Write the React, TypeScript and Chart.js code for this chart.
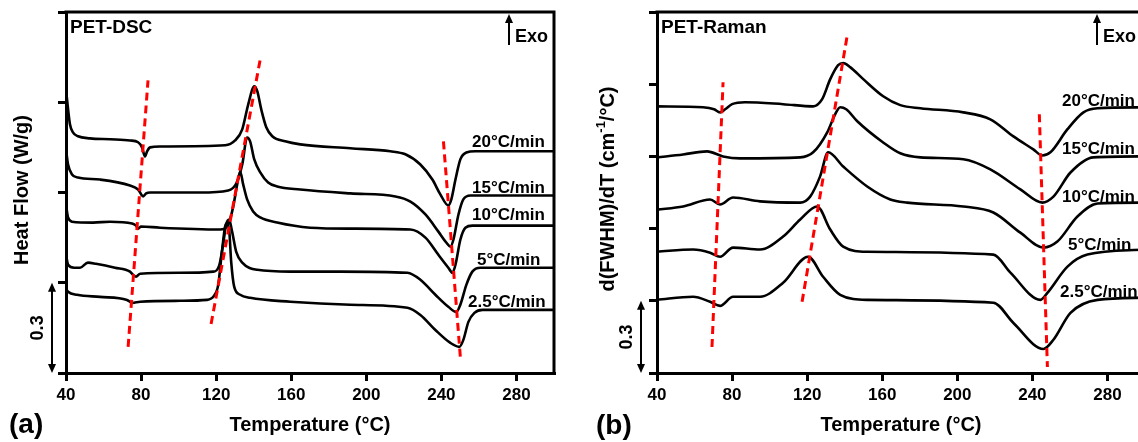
import React, { useEffect, useRef } from "react";
import { Chart, registerables } from "chart.js";

Chart.register(...registerables);

type Pt = [number, number];

const FONT = '"Liberation Sans", Arial, Helvetica, sans-serif';

// ---------- axes ----------
const tempMin = 40;
const tempMax = 300;
const temperatureTicks = [40, 80, 120, 160, 200, 240, 280];
const dscTicks = [0, 0.3, 0.6, 0.9, 1.2];
const ramanTicks = [0, 0.3, 0.6, 0.9, 1.2, 1.5];
const rateLabels = ["20°C/min", "15°C/min", "10°C/min", "5°C/min", "2.5°C/min"];
const scaleBarValue = 0.3;

// ---------- (a) PET-DSC : [temperature °C, offset heat flow W/g] ----------
const dsc20: Pt[] = [
  [40.0, 0.943], [41.1, 0.877], [42.1, 0.827], [43.7, 0.8], [46.4, 0.787], [52.8, 0.78], [63.5, 0.777],
  [74.1, 0.773], [78.4, 0.767], [80.5, 0.75], [82.1, 0.72], [83.2, 0.737], [84.8, 0.75], [90.1, 0.753],
  [124.8, 0.757], [130.1, 0.773], [133.9, 0.81], [137.1, 0.893], [140.3, 0.953], [141.9, 0.937],
  [144.0, 0.877], [146.7, 0.817], [149.9, 0.787], [156.8, 0.77], [164.8, 0.76], [191.5, 0.747],
  [212.8, 0.737], [220.8, 0.727], [228.8, 0.693], [235.2, 0.643], [239.5, 0.593], [243.7, 0.557],
  [245.3, 0.577], [247.5, 0.643], [250.1, 0.71], [253.3, 0.733], [258.1, 0.737], [300, 0.737],
];
const dsc15: Pt[] = [
  [40.0, 0.743], [41.1, 0.693], [43.2, 0.66], [46.4, 0.65], [58.1, 0.643], [74.1, 0.623], [78.4, 0.61],
  [81.1, 0.587], [82.7, 0.597], [84.8, 0.6], [111.5, 0.6], [126.4, 0.607], [130.7, 0.63], [133.9, 0.693],
  [136.5, 0.783], [138.1, 0.77], [140.3, 0.71], [143.5, 0.667], [147.7, 0.633], [152.5, 0.62],
  [164.8, 0.61], [191.5, 0.597], [215.5, 0.587], [223.5, 0.57], [231.5, 0.527], [238.4, 0.47],
  [242.7, 0.433], [244.8, 0.42], [246.4, 0.443], [249.1, 0.527], [251.7, 0.577], [255.5, 0.59], [300, 0.59],
];
const dsc10: Pt[] = [
  [40.0, 0.56], [41.1, 0.517], [43.2, 0.503], [54.4, 0.5], [63.5, 0.503], [75.2, 0.497], [77.3, 0.49],
  [78.4, 0.48], [80.0, 0.487], [90.1, 0.483], [122.1, 0.477], [126.4, 0.493], [129.1, 0.553],
  [131.2, 0.627], [132.8, 0.67], [134.4, 0.627], [136.5, 0.577], [139.7, 0.537], [143.5, 0.517],
  [152.5, 0.5], [170.1, 0.483], [191.5, 0.48], [223.5, 0.477], [231.5, 0.45], [238.4, 0.393],
  [243.7, 0.35], [245.9, 0.333], [247.5, 0.36], [250.1, 0.443], [252.8, 0.483], [256.5, 0.49], [300, 0.49],
];
const dsc5: Pt[] = [
  [40.0, 0.393], [41.1, 0.36], [44.3, 0.35], [47.5, 0.35], [51.7, 0.367], [56.0, 0.363], [66.1, 0.35],
  [74.1, 0.337], [76.3, 0.323], [77.3, 0.32], [79.5, 0.33], [100.8, 0.333], [118.4, 0.337], [121.6, 0.357],
  [123.7, 0.427], [125.3, 0.493], [126.9, 0.51], [128.5, 0.47], [130.7, 0.403], [133.9, 0.367],
  [141.9, 0.343], [159.5, 0.337], [186.1, 0.337], [221.9, 0.333], [228.8, 0.31], [236.8, 0.26],
  [243.7, 0.22], [248.0, 0.203], [250.1, 0.227], [253.3, 0.293], [256.5, 0.337], [260.8, 0.35], [300, 0.35],
];
const dsc2p5: Pt[] = [
  [40.0, 0.28], [41.1, 0.27], [45.9, 0.26], [58.1, 0.253], [72.5, 0.243], [75.2, 0.233], [79.5, 0.237],
  [100.8, 0.24], [115.2, 0.243], [118.9, 0.257], [121.1, 0.293], [123.2, 0.41], [125.3, 0.497],
  [126.9, 0.477], [128.0, 0.37], [129.6, 0.287], [132.8, 0.26], [138.1, 0.25], [159.5, 0.237],
  [191.5, 0.227], [221.9, 0.217], [228.8, 0.193], [236.8, 0.143], [244.8, 0.1], [249.6, 0.087],
  [251.7, 0.11], [254.4, 0.17], [257.6, 0.2], [261.9, 0.21], [300, 0.21],
];
const dscGuides: Pt[][] = [
  [[73.1, 0.087], [83.7, 0.973]],
  [[117.3, 0.163], [143.5, 1.043]],
  [[241.1, 0.77], [250.1, 0.053]],
];

// ---------- (b) PET-Raman : [temperature °C, offset d(FWHM)/dT] ----------
const raman20: Pt[] = [
  [40.0, 1.108], [64.5, 1.104], [70.4, 1.096], [73.6, 1.083], [76.3, 1.096], [80.0, 1.117], [86.9, 1.125],
  [107.2, 1.117], [123.2, 1.108], [128.0, 1.138], [132.3, 1.221], [136.5, 1.279], [139.2, 1.288],
  [142.9, 1.271], [149.9, 1.221], [160.5, 1.15], [169.6, 1.113], [180.3, 1.1], [203.2, 1.083],
  [217.6, 1.054], [229.9, 0.983], [240.5, 0.929], [245.3, 0.904], [249.6, 0.917], [258.7, 1.013],
  [267.2, 1.083], [274.7, 1.1], [300, 1.104],
];
const raman15: Pt[] = [
  [40.0, 0.896], [53.9, 0.908], [66.7, 0.921], [75.2, 0.9], [84.3, 0.892], [116.3, 0.896], [123.2, 0.917],
  [130.7, 1.0], [134.9, 1.075], [137.6, 1.104], [140.8, 1.096], [146.7, 1.046], [160.5, 0.958],
  [169.6, 0.913], [180.3, 0.896], [203.2, 0.888], [217.6, 0.846], [233.6, 0.763], [245.3, 0.708],
  [251.2, 0.733], [260.3, 0.833], [272.5, 0.896], [300, 0.9],
];
const raman10: Pt[] = [
  [40.0, 0.679], [53.9, 0.692], [68.3, 0.721], [73.6, 0.7], [80.5, 0.729], [94.9, 0.713], [116.3, 0.708],
  [121.6, 0.733], [126.9, 0.817], [131.2, 0.917], [139.2, 0.858], [152.0, 0.775], [164.3, 0.721],
  [173.3, 0.708], [203.2, 0.692], [219.2, 0.667], [233.6, 0.583], [245.9, 0.521], [253.3, 0.546],
  [264.0, 0.65], [274.7, 0.704], [300, 0.708],
];
const raman5: Pt[] = [
  [40.0, 0.504], [59.2, 0.513], [68.3, 0.5], [73.6, 0.483], [80.5, 0.521], [94.9, 0.513], [107.2, 0.567],
  [116.3, 0.638], [125.3, 0.692], [132.3, 0.596], [139.2, 0.525], [152.0, 0.504], [219.2, 0.492],
  [228.3, 0.417], [244.3, 0.304], [248.0, 0.333], [258.7, 0.442], [269.3, 0.492], [300, 0.513],
];
const raman2p5: Pt[] = [
  [40.0, 0.304], [59.2, 0.317], [68.3, 0.296], [73.6, 0.279], [80.5, 0.317], [94.9, 0.317], [107.2, 0.375],
  [120.5, 0.483], [128.5, 0.4], [137.6, 0.325], [152.0, 0.304], [219.2, 0.292], [229.9, 0.208],
  [245.9, 0.1], [251.2, 0.138], [260.3, 0.25], [274.7, 0.304], [300, 0.313],
];
const ramanGuides: Pt[][] = [
  [[69.3, 0.108], [75.2, 1.208]],
  [[117.3, 0.296], [141.3, 1.4]],
  [[243.7, 1.075], [248.0, 0.025]],
];

// ---------- panel layout (pixels inside each panel canvas) ----------
interface PanelSpec {
  left: number;
  series: Pt[][];
  guides: Pt[][];
  yMax: number;
  yTicks: number[];
  title: string;
  yTitle: string[];
  letter: string;
  letterPos: [number, number];
  yTitlePos: [number, number];
  exoX: number;
  labelPos: [number, number][];
  barX: number;
  barTextX: number;
}

const panelA: PanelSpec = {
  left: 0,
  series: [dsc20, dsc15, dsc10, dsc5, dsc2p5],
  guides: dscGuides,
  yMax: 1.2,
  yTicks: dscTicks,
  title: "PET-DSC",
  yTitle: ["Heat Flow (W/g)"],
  letter: "(a)",
  letterPos: [9, 433],
  yTitlePos: [22, 190],
  exoX: 509,
  labelPos: [[472, 147], [472, 193], [472, 220], [477, 265], [468, 307]],
  barX: 52,
  barTextX: 38,
};

const panelB: PanelSpec = {
  left: 591,
  series: [raman20, raman15, raman10, raman5, raman2p5],
  guides: ramanGuides,
  yMax: 1.5,
  yTicks: ramanTicks,
  title: "PET-Raman",
  yTitle: ["d(FWHM)/dT (cm", "-1", "/°C)"],
  letter: "(b)",
  letterPos: [5, 434],
  yTitlePos: [17, 189],
  exoX: 506,
  labelPos: [[471, 106], [471, 154], [471, 202], [477, 250], [469, 297]],
  barX: 50,
  barTextX: 36,
};

const CW = 570;
const CH = 442;

function arrowHead(ctx: CanvasRenderingContext2D, x: number, y: number, dir: number) {
  ctx.beginPath();
  ctx.moveTo(x, y);
  ctx.lineTo(x - 4, y + dir * 9);
  ctx.lineTo(x + 4, y + dir * 9);
  ctx.closePath();
  ctx.fill();
}

function makeAnnotations(spec: PanelSpec) {
  return {
    id: "annot" + spec.letter,
    afterDraw(chart: any) {
      const ctx: CanvasRenderingContext2D = chart.ctx;
      const { left, top, right, bottom } = chart.chartArea;
      const ys = chart.scales.y;
      ctx.save();
      ctx.fillStyle = "#000";
      ctx.strokeStyle = "#000";
      // frame: top and right
      ctx.lineWidth = 3;
      ctx.lineCap = "square";
      ctx.beginPath();
      ctx.moveTo(left, top);
      ctx.lineTo(right, top);
      ctx.lineTo(right, bottom);
      ctx.stroke();
      ctx.lineCap = "butt";

      // panel title
      ctx.font = `bold 19px ${FONT}`;
      ctx.textAlign = "left";
      ctx.textBaseline = "alphabetic";
      ctx.fillText(spec.title, left + 4, top + 21);

      // Exo arrow
      ctx.lineWidth = 2;
      ctx.beginPath();
      ctx.moveTo(spec.exoX, 45);
      ctx.lineTo(spec.exoX, 20);
      ctx.stroke();
      arrowHead(ctx, spec.exoX, 14, 1);
      ctx.font = `bold 18px ${FONT}`;
      ctx.fillText("Exo", spec.exoX + 6, 42);

      // rate labels
      ctx.font = `bold 17px ${FONT}`;
      rateLabels.forEach((t, i) => {
        const [x, y] = spec.labelPos[i];
        ctx.fillText(t, x, y);
      });

      // scale bar
      const yb0 = ys.getPixelForValue(0);
      const yb1 = ys.getPixelForValue(scaleBarValue);
      ctx.lineWidth = 2;
      ctx.beginPath();
      ctx.moveTo(spec.barX, yb1 + 6);
      ctx.lineTo(spec.barX, yb0 - 6);
      ctx.stroke();
      arrowHead(ctx, spec.barX, yb1, 1);
      arrowHead(ctx, spec.barX, yb0, -1);
      ctx.save();
      ctx.translate(spec.barTextX, (yb0 + yb1) / 2);
      ctx.rotate(-Math.PI / 2);
      ctx.font = `bold 18px ${FONT}`;
      ctx.textAlign = "center";
      ctx.textBaseline = "middle";
      ctx.fillText(String(scaleBarValue), 0, 0);
      ctx.restore();

      // x title
      ctx.font = `bold 20px ${FONT}`;
      ctx.textAlign = "center";
      ctx.textBaseline = "middle";
      ctx.fillText("Temperature (°C)", (left + right) / 2, 425);

      // y title (rotated, with optional superscript)
      ctx.save();
      ctx.translate(spec.yTitlePos[0], spec.yTitlePos[1]);
      ctx.rotate(-Math.PI / 2);
      ctx.textAlign = "left";
      ctx.textBaseline = "middle";
      const mainFont = `bold 20px ${FONT}`;
      const supFont = `bold 13px ${FONT}`;
      const parts = spec.yTitle.map((t, i) => ({ t, sup: spec.yTitle.length === 3 && i === 1 }));
      let total = 0;
      const widths = parts.map((p) => {
        ctx.font = p.sup ? supFont : mainFont;
        const w = ctx.measureText(p.t).width;
        total += w;
        return w;
      });
      let cx = -total / 2;
      parts.forEach((p, i) => {
        ctx.font = p.sup ? supFont : mainFont;
        ctx.fillText(p.t, cx, p.sup ? -7 : 0);
        cx += widths[i];
      });
      ctx.restore();

      // panel letter
      ctx.font = `bold 28px ${FONT}`;
      ctx.textAlign = "left";
      ctx.textBaseline = "alphabetic";
      ctx.fillText(spec.letter, spec.letterPos[0], spec.letterPos[1]);
      ctx.restore();
    },
  };
}

function Panel({ spec }: { spec: PanelSpec }) {
  const ref = useRef<HTMLCanvasElement>(null);
  useEffect(() => {
    if (!ref.current) return;
    const toXY = (pts: Pt[]) => pts.map(([x, y]) => ({ x, y }));
    const chart = new Chart(ref.current, {
      type: "line",
      data: {
        datasets: [
          ...spec.guides.map((g) => ({
            data: toXY(g),
            borderColor: "#ff0000",
            borderWidth: 3,
            borderDash: [8, 5],
            pointRadius: 0,
            tension: 0,
            fill: false,
          })),
          ...spec.series.map((s) => ({
            data: toXY(s),
            borderColor: "#000000",
            borderWidth: 2.6,
            pointRadius: 0,
            cubicInterpolationMode: "monotone" as const,
            fill: false,
          })),
        ],
      },
      options: {
        responsive: false,
        animation: false,
        events: [],
        layout: { padding: { top: 12, right: 16, left: 0, bottom: 0 } },
        plugins: {
          legend: { display: false },
          tooltip: { enabled: false },
          title: { display: false },
        },
        scales: {
          x: {
            type: "linear",
            min: tempMin,
            max: tempMax,
            afterBuildTicks: (s: any) => {
              s.ticks = temperatureTicks.map((v) => ({ value: v }));
            },
            afterFit: (s: any) => {
              s.height = CH - 373;
            },
            border: { display: true, color: "#000", width: 3 },
            grid: { drawOnChartArea: false, drawTicks: true, tickLength: 8, color: "#000", lineWidth: 3 },
            ticks: {
              color: "#000",
              font: { family: FONT, size: 17, weight: "bold" },
              padding: 4,
              maxRotation: 0,
              autoSkip: false,
            },
          },
          y: {
            type: "linear",
            min: 0,
            max: spec.yMax,
            afterBuildTicks: (s: any) => {
              s.ticks = spec.yTicks.map((v) => ({ value: v }));
            },
            afterFit: (s: any) => {
              s.width = 66;
            },
            border: { display: true, color: "#000", width: 3 },
            grid: { drawOnChartArea: false, drawTicks: true, tickLength: 8, color: "#000", lineWidth: 3 },
            ticks: { display: false },
          },
        },
      } as any,
      plugins: [makeAnnotations(spec)],
    });
    return () => chart.destroy();
  }, [spec]);
  return (
    <canvas
      ref={ref}
      width={CW}
      height={CH}
      style={{ position: "absolute", left: spec.left, top: 0, width: CW, height: CH }}
    />
  );
}

export default function App() {
  return (
    <div
      style={{
        position: "fixed",
        left: 0,
        top: 0,
        width: 1138,
        height: 442,
        overflow: "hidden",
        background: "#ffffff",
      }}
    >
      <Panel spec={panelA} />
      <Panel spec={panelB} />
    </div>
  );
}
